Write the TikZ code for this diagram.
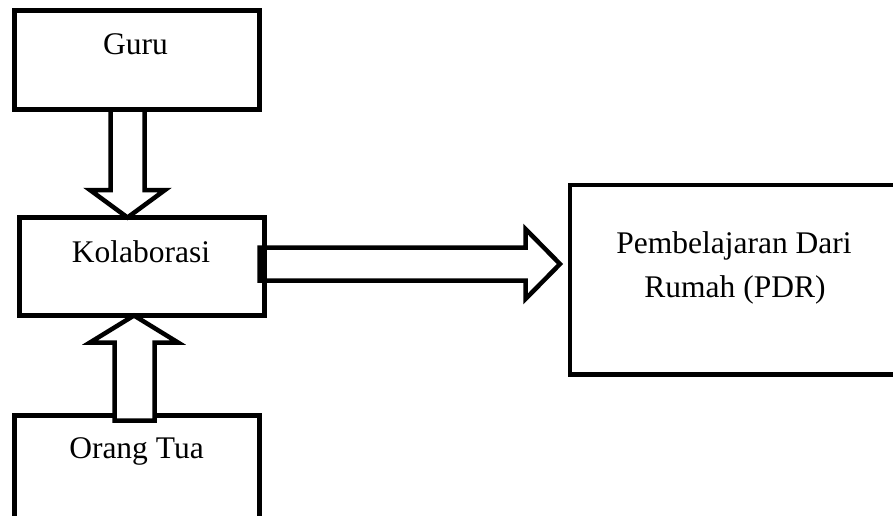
\documentclass[tikz,border=0pt]{standalone}
\usepackage{fontspec}
\setmainfont{Liberation Serif}
\usetikzlibrary{calc}
\begin{document}
\begin{tikzpicture}[x=1pt,y=-1pt,
  boxshape/.style={inner sep=0pt, outer sep=0pt},
  boxline/.style={draw=black, line width=4.5pt},
  barrow/.style={draw=black, fill=white, line width=4.5pt, line join=miter},
  txt/.style={inner sep=0pt, anchor=base, font=\fontsize{31.5}{40}\selectfont}]
\useasboundingbox (0,0) rectangle (893,516);
\clip (0,0) rectangle (893,516);
% box shapes
\node[boxshape, minimum width=245pt, minimum height=99pt] (guru) at (137,60) {};
\node[boxshape, minimum width=245pt, minimum height=98pt] (kolab) at (142,266.5) {};
\node[boxshape, minimum width=245pt, minimum height=144.5pt] (orang) at (137,487.75) {};
\node[boxshape, minimum width=390pt, minimum height=189.5pt] (pdr) at (765,279.75) {};
% Orang Tua box (under its arrow)
\draw[boxline] (orang.south west) rectangle (orang.north east);
% block arrows
\draw[barrow] ($(guru.south)+(-26.5,0)$) -- ++(0,80.5) -- ++(-20.5,0)
  -- ($(kolab.north)+(-14.5,0)$) -- ++(37.5,-27.5) -- ++(-20.5,0) -- ++(0,-80.5) -- cycle;
\draw[barrow] ($(orang.north)+(-22.5,5)$) -- ++(0,-78) -- ++(-24.5,0)
  -- ($(kolab.south)+(-8,0)$) -- ++(44,27) -- ++(-23.5,0) -- ++(0,78) -- cycle;
\draw[barrow] ($(kolab.east)+(-5,-19)$) -- ++(266,0) -- ++(0,-18.5)
  -- ($(pdr.west)+(-10,-15.75)$) -- ++(-34.5,35) -- ++(0,-18.5) -- ++(-266,0) -- cycle;
% other boxes (over the arrows)
\draw[boxline] (guru.south west) rectangle (guru.north east);
\draw[boxline] (kolab.south west) rectangle (kolab.north east);
\draw[boxline] (pdr.south west) rectangle (pdr.north east);
% texts
\node[txt] (guru-t) at (135.5,55) {Guru};
\node[txt] (kolab-t) at (141,262) {Kolaborasi};
\node[txt] (orang-t) at (136.5,458) {Orang Tua};
\node[txt] (pdr-t1) at (734,253) {Pembelajaran Dari};
\node[txt] (pdr-t2) at (735,297) {Rumah (PDR)};
\end{tikzpicture}
\end{document}
